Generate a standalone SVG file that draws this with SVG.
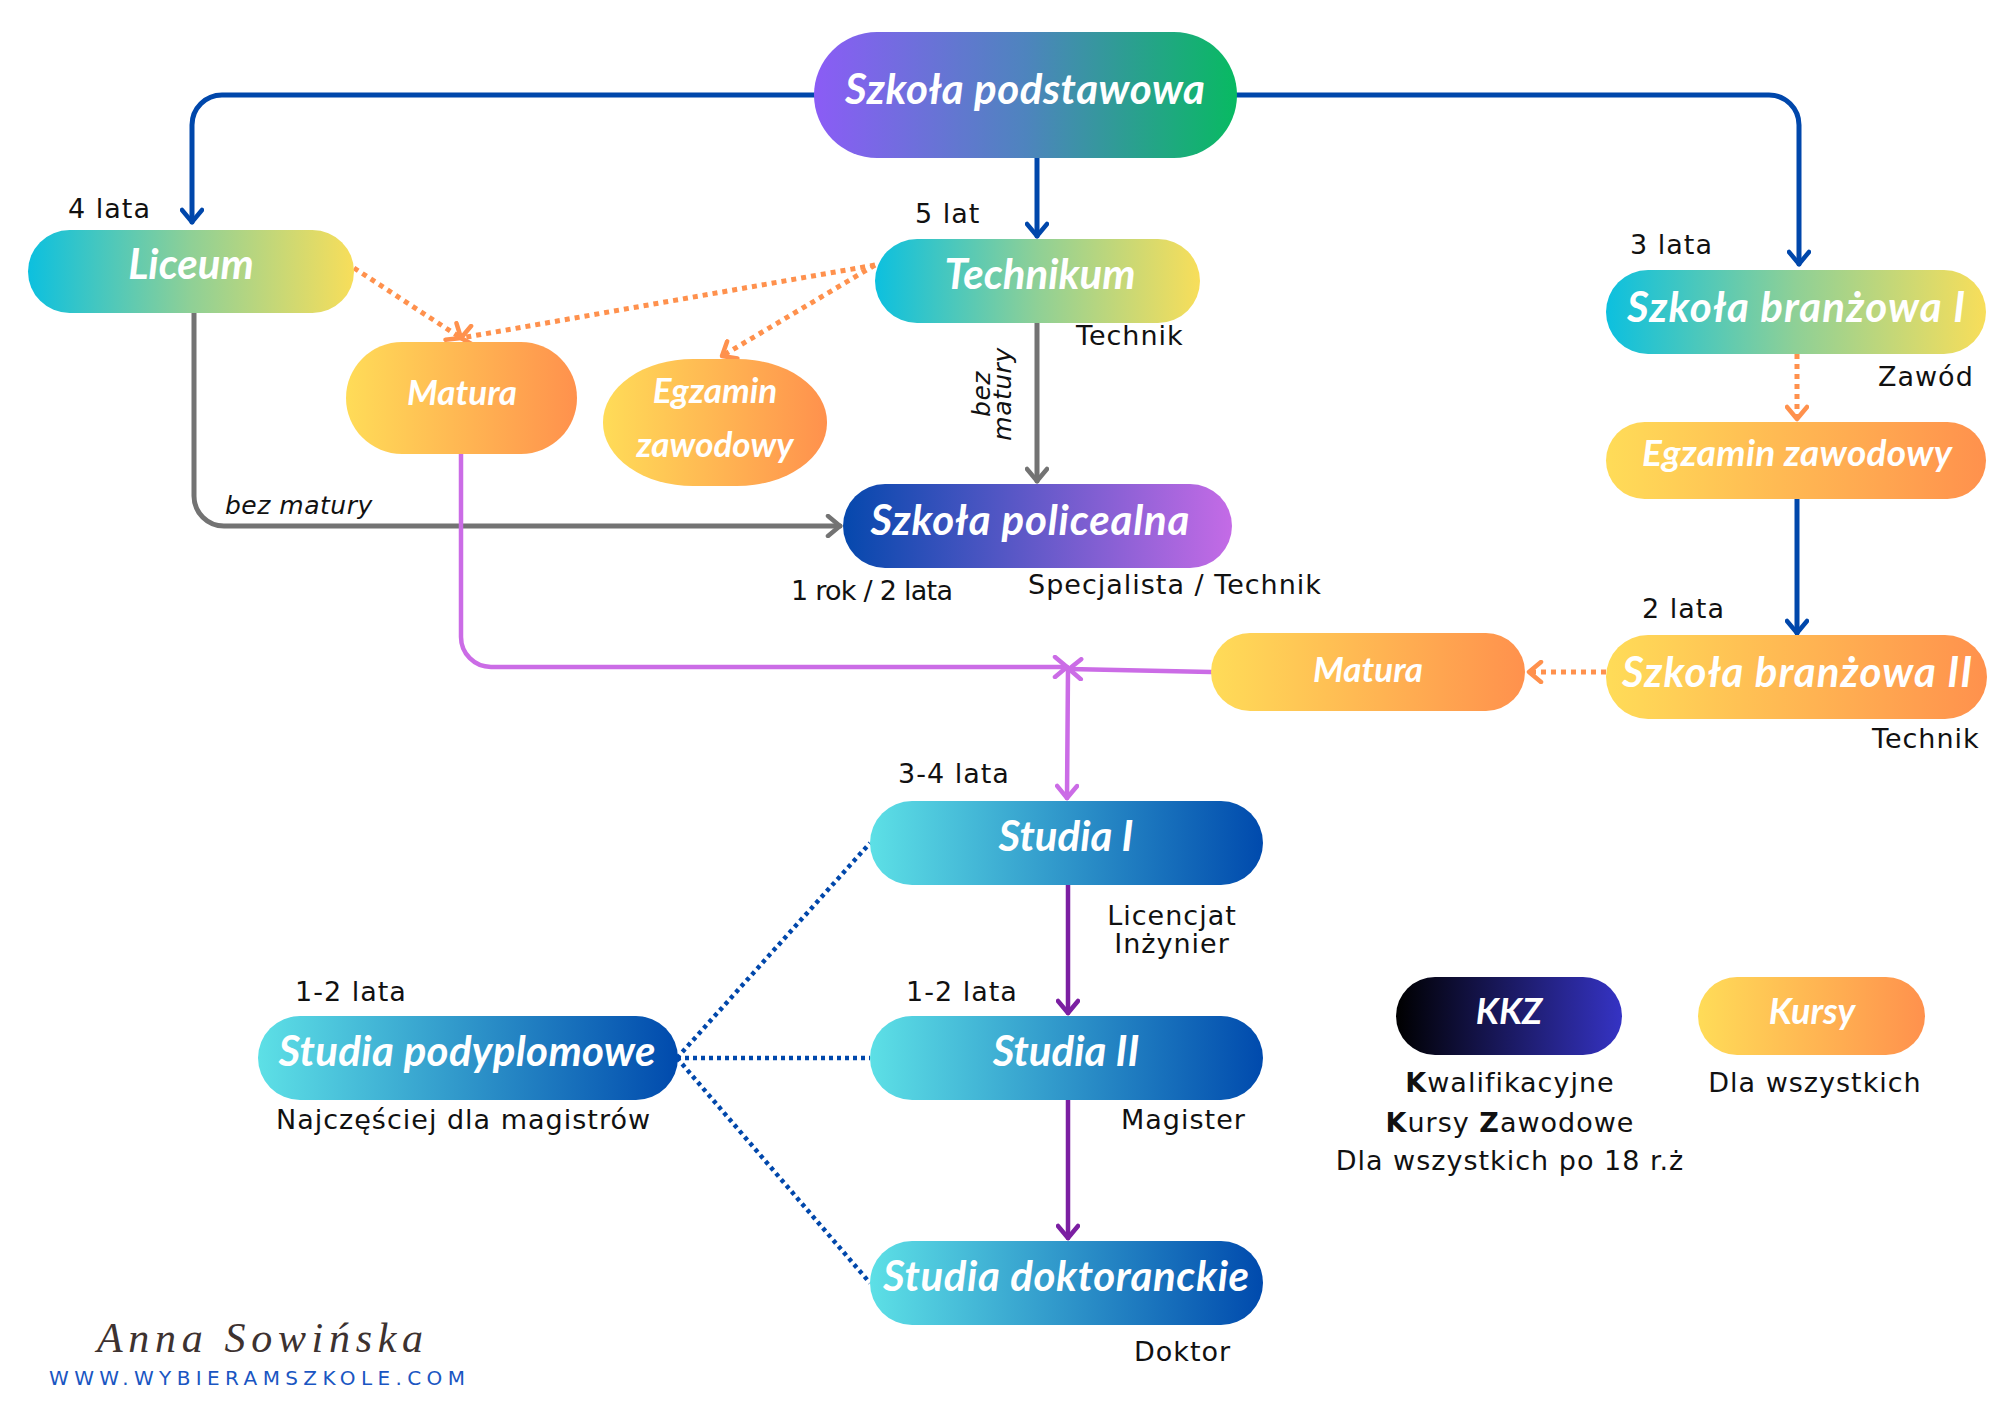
<svg xmlns="http://www.w3.org/2000/svg" width="2000" height="1414" viewBox="0 0 2000 1414">
<defs>
<style>
.t{font-family:Lato,"Liberation Sans",sans-serif;font-weight:700;font-style:italic;fill:#fff;text-anchor:middle}
.lb{font-family:"DejaVu Sans","Liberation Sans",sans-serif;font-size:27px;letter-spacing:1px;fill:#111}
.it{font-family:"DejaVu Sans","Liberation Sans",sans-serif;font-size:25px;letter-spacing:0.5px;font-style:italic;fill:#111}
.c{fill:none;stroke-width:5;stroke-linecap:round;stroke-linejoin:round}
.blue{stroke:#0047AB}
.gray{stroke:#737373}
.or{stroke:#FF914D;stroke-dasharray:5 5;stroke-linecap:butt}
.pl{stroke:#CB6CE6;stroke-width:4.5}
.dp{stroke:#7B1FA2;stroke-width:4.5}
.bd{stroke:#0047AB;stroke-width:4.5;stroke-dasharray:4 4;stroke-linecap:butt}
.mk{fill:none;stroke-width:4.5;stroke-linecap:round;stroke-linejoin:round}
</style>
<linearGradient id="gPod" x1="0" y1="0" x2="1" y2="0"><stop offset="0" stop-color="#8B5CF6"/><stop offset="0.5" stop-color="#4E84BE"/><stop offset="1" stop-color="#08BA62"/></linearGradient>
<linearGradient id="gCy" x1="0" y1="0" x2="1" y2="0"><stop offset="0" stop-color="#0CC0DF"/><stop offset="0.5" stop-color="#8FD096"/><stop offset="1" stop-color="#F8DE5A"/></linearGradient>
<linearGradient id="gOr" x1="0" y1="0" x2="1" y2="0"><stop offset="0" stop-color="#FFDC58"/><stop offset="1" stop-color="#FF914D"/></linearGradient>
<linearGradient id="gPol" x1="0" y1="0" x2="1" y2="0"><stop offset="0" stop-color="#0548AD"/><stop offset="1" stop-color="#C46BE6"/></linearGradient>
<linearGradient id="gSt" x1="0" y1="0" x2="1" y2="0"><stop offset="0" stop-color="#5DE0E6"/><stop offset="1" stop-color="#004AAD"/></linearGradient>
<linearGradient id="gKkz" x1="0" y1="0" x2="1" y2="0"><stop offset="0" stop-color="#000000"/><stop offset="1" stop-color="#3533C4"/></linearGradient>
<marker id="aBlue" viewBox="0 0 24 24" markerWidth="24" markerHeight="24" refX="20" refY="12" orient="auto" markerUnits="userSpaceOnUse"><path class="mk" d="M8,2 L20,12 L8,22" stroke="#0047AB"/></marker>
<marker id="aGray" viewBox="0 0 24 24" markerWidth="24" markerHeight="24" refX="20" refY="12" orient="auto" markerUnits="userSpaceOnUse"><path class="mk" d="M8,2 L20,12 L8,22" stroke="#737373"/></marker>
<marker id="aOr" viewBox="0 0 24 24" markerWidth="24" markerHeight="24" refX="20" refY="12" orient="auto" markerUnits="userSpaceOnUse"><path class="mk" d="M8,2 L20,12 L8,22" stroke="#FF914D"/></marker>
<marker id="aPl" viewBox="0 0 24 24" markerWidth="24" markerHeight="24" refX="20" refY="12" orient="auto" markerUnits="userSpaceOnUse"><path class="mk" d="M8,2 L20,12 L8,22" stroke="#CB6CE6"/></marker>
<marker id="aDp" viewBox="0 0 24 24" markerWidth="24" markerHeight="24" refX="20" refY="12" orient="auto" markerUnits="userSpaceOnUse"><path class="mk" d="M8,2 L20,12 L8,22" stroke="#7B1FA2"/></marker>
</defs>
<rect width="2000" height="1414" fill="#fff"/>

<g id="connectors">
<path class="c blue" d="M820,95 H222 A30,30 0 0 0 192,125 V222" marker-end="url(#aBlue)"/>
<path class="c blue" d="M1230,95 H1769 A30,30 0 0 1 1799,125 V264" marker-end="url(#aBlue)"/>
<path class="c blue" d="M1037,152 V236" marker-end="url(#aBlue)"/>
<path class="c or" d="M354,268 L461,338" marker-end="url(#aOr)"/>
<path class="c or" d="M875,265 L461,338" marker-end="url(#aOr)"/>
<path class="c or" d="M875,265 L722,356" marker-end="url(#aOr)"/>
<path class="c gray" d="M1037,323 V481" marker-end="url(#aGray)"/>
<path class="c gray" d="M194,313 V496 A30,30 0 0 0 224,526 H840" marker-end="url(#aGray)"/>
<path class="c or" d="M1797,354 V419" marker-end="url(#aOr)"/>
<path class="c blue" d="M1797,499 V633" marker-end="url(#aBlue)"/>
<path class="c or" d="M1606,672 H1529" marker-end="url(#aOr)"/>
<path class="c pl" d="M461,454 V637 A30,30 0 0 0 491,667 H1067" marker-end="url(#aPl)"/>
<path class="c pl" d="M1211,672 L1069,669" marker-end="url(#aPl)"/>
<path class="c pl" d="M1068,669 L1067,798" marker-end="url(#aPl)"/>
<path class="c dp" d="M1068,885 V1013" marker-end="url(#aDp)"/>
<path class="c dp" d="M1068,1100 V1238" marker-end="url(#aDp)"/>
<path class="c bd" d="M677,1058 L870,843"/>
<path class="c bd" d="M677,1058 H870"/>
<path class="c bd" d="M677,1058 L870,1283"/>
</g>

<g id="n-podstawowa"><rect x="814" y="32" width="423" height="126" rx="63" fill="url(#gPod)"/><text class="t" x="1025" y="104" font-size="42" textLength="360" lengthAdjust="spacing">Szkoła podstawowa</text></g>
<g id="n-liceum"><rect x="28" y="230" width="326" height="83" rx="41.5" fill="url(#gCy)"/><text class="t" x="191" y="279" font-size="42">Liceum</text></g>
<g id="n-technikum"><rect x="875" y="239" width="325" height="84" rx="42" fill="url(#gCy)"/><text class="t" x="1040" y="289" font-size="42">Technikum</text></g>
<g id="n-matura1"><rect x="346" y="342" width="231" height="112" rx="56" fill="url(#gOr)"/><text class="t" x="462" y="405" font-size="35">Matura</text></g>
<g id="n-egzamin1"><rect x="603" y="359" width="224" height="127" rx="90" ry="63" fill="url(#gOr)"/><text class="t" x="715" y="403" font-size="35">Egzamin</text><text class="t" x="715" y="457" font-size="35">zawodowy</text></g>
<g id="n-policealna"><rect x="843" y="484" width="389" height="84" rx="42" fill="url(#gPol)"/><text class="t" x="1030" y="535" font-size="42" textLength="319" lengthAdjust="spacing">Szkoła policealna</text></g>
<g id="n-branzowa1"><rect x="1606" y="270" width="380" height="84" rx="42" fill="url(#gCy)"/><text class="t" x="1796" y="322" font-size="42" textLength="338" lengthAdjust="spacing">Szkoła branżowa I</text></g>
<g id="n-egzamin2"><rect x="1606" y="422" width="380" height="77" rx="38.5" fill="url(#gOr)"/><text class="t" x="1797" y="466" font-size="37" textLength="310" lengthAdjust="spacing">Egzamin zawodowy</text></g>
<g id="n-branzowa2"><rect x="1606" y="635" width="381" height="84" rx="42" fill="url(#gOr)"/><text class="t" x="1797" y="687" font-size="42" textLength="350" lengthAdjust="spacing">Szkoła branżowa II</text></g>
<g id="n-matura2"><rect x="1211" y="633" width="314" height="78" rx="39" fill="url(#gOr)"/><text class="t" x="1368" y="682" font-size="35">Matura</text></g>
<g id="n-studia1"><rect x="870" y="801" width="393" height="84" rx="42" fill="url(#gSt)"/><text class="t" x="1066" y="851" font-size="42">Studia I</text></g>
<g id="n-studia2"><rect x="870" y="1016" width="393" height="84" rx="42" fill="url(#gSt)"/><text class="t" x="1066" y="1066" font-size="42">Studia II</text></g>
<g id="n-doktoranckie"><rect x="870" y="1241" width="393" height="84" rx="42" fill="url(#gSt)"/><text class="t" x="1066" y="1291" font-size="42" textLength="366" lengthAdjust="spacing">Studia doktoranckie</text></g>
<g id="n-podyplomowe"><rect x="258" y="1016" width="420" height="84" rx="42" fill="url(#gSt)"/><text class="t" x="467" y="1066" font-size="42" textLength="377" lengthAdjust="spacing">Studia podyplomowe</text></g>
<g id="n-kkz"><rect x="1396" y="977" width="226" height="78" rx="39" fill="url(#gKkz)"/><text class="t" x="1509" y="1024" font-size="36">KKZ</text></g>
<g id="n-kursy"><rect x="1698" y="977" width="227" height="78" rx="39" fill="url(#gOr)"/><text class="t" x="1812" y="1024" font-size="36">Kursy</text></g>

<g id="labels">
<text class="lb" x="68" y="218">4 lata</text>
<text class="lb" x="915" y="223">5 lat</text>
<text class="lb" x="1076" y="345">Technik</text>
<text class="lb" x="1630" y="254">3 lata</text>
<text class="lb" x="1878" y="386">Zawód</text>
<text class="lb" x="1642" y="618">2 lata</text>
<text class="lb" x="1872" y="748">Technik</text>
<text class="lb" x="791" y="600" textLength="163" lengthAdjust="spacing">1 rok / 2 lata</text>
<text class="lb" x="1028" y="594">Specjalista / Technik</text>
<text class="it" x="225" y="514">bez matury</text>
<text class="it" transform="translate(990,394) rotate(-90)" text-anchor="middle">bez</text>
<text class="it" transform="translate(1011,394) rotate(-90)" text-anchor="middle">matury</text>
<text class="lb" x="898" y="783">3-4 lata</text>
<text class="lb" x="1172" y="925" text-anchor="middle">Licencjat</text>
<text class="lb" x="1172" y="953" text-anchor="middle">Inżynier</text>
<text class="lb" x="295" y="1001">1-2 lata</text>
<text class="lb" x="906" y="1001">1-2 lata</text>
<text class="lb" x="276" y="1129">Najczęściej dla magistrów</text>
<text class="lb" x="1121" y="1129">Magister</text>
<text class="lb" x="1134" y="1361">Doktor</text>
<text class="lb" x="1510" y="1092" text-anchor="middle"><tspan font-weight="700">K</tspan>walifikacyjne</text>
<text class="lb" x="1510" y="1132" text-anchor="middle"><tspan font-weight="700">K</tspan>ursy <tspan font-weight="700">Z</tspan>awodowe</text>
<text class="lb" x="1510" y="1170" text-anchor="middle">Dla wszystkich po 18 r.ż</text>
<text class="lb" x="1815" y="1092" text-anchor="middle">Dla wszystkich</text>
<text x="97" y="1352" font-family="'Liberation Serif',serif" font-style="italic" font-size="42" fill="#3d3230" textLength="326" lengthAdjust="spacing">Anna Sowińska</text>
<text x="49" y="1385" font-family="'DejaVu Sans',sans-serif" font-size="20" fill="#1A56C2" textLength="416" lengthAdjust="spacing">WWW.WYBIERAMSZKOLE.COM</text>
</g>
</svg>
